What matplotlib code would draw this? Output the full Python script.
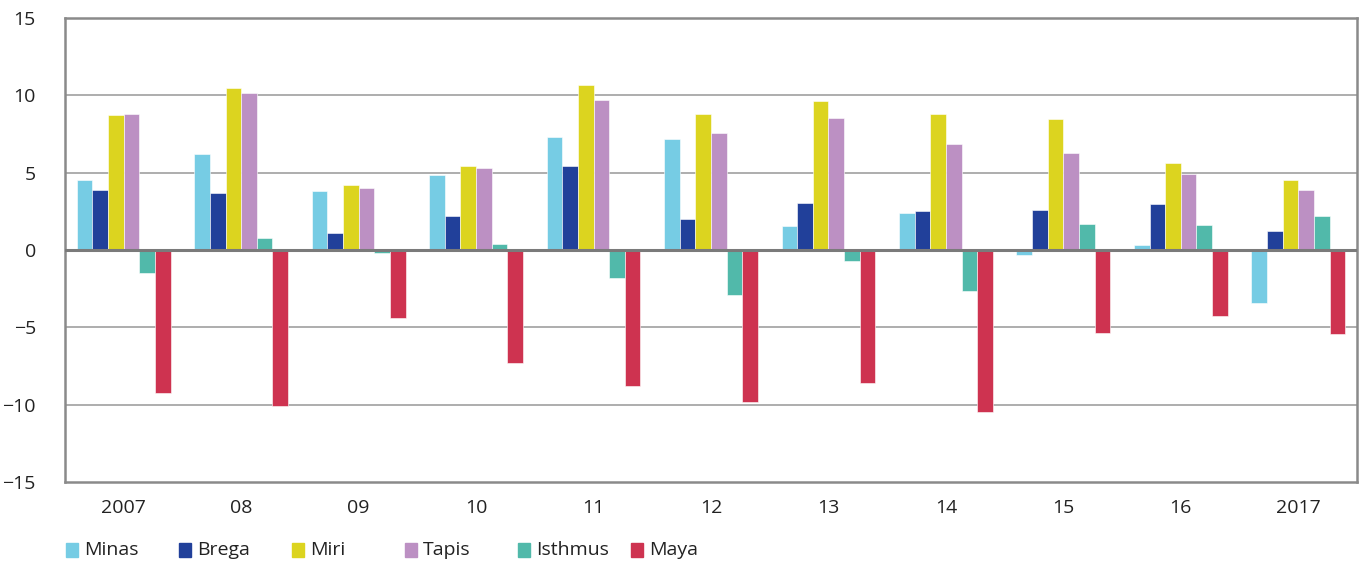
import numpy as np
import matplotlib
matplotlib.use("Agg")
import matplotlib.pyplot as plt
from matplotlib.patches import Rectangle

years = ["2007", "08", "09", "10", "11", "12", "13", "14", "15", "16", "2017"]
minas = [4.52, 6.2, 3.81, 4.85, 7.3, 7.18, 1.55, 2.39, -0.3, 0.32, -3.4]
brega = [3.86, 3.66, 1.1, 2.2, 5.43, 2.0, 3.02, 2.52, 2.59, 2.97, 1.21]
miri = [8.7, 10.47, 4.2, 5.43, 10.67, 8.81, 9.63, 8.81, 8.47, 5.62, 4.52]
tapis = [8.81, 10.13, 4.0, 5.28, 9.7, 7.54, 8.53, 6.87, 6.27, 4.93, 3.88]
isthmus = [-1.47, 0.8, -0.2, 0.41, -1.79, -2.91, -0.69, -2.63, 1.66, 1.62, 2.2]
maya = [-9.27, -10.06, -4.4, -7.3, -8.81, -9.83, -8.58, -10.49, -5.39, -4.25, -5.43]

names = ["Minas", "Brega", "Miri", "Tapis", "Isthmus", "Maya"]
series = [minas, brega, miri, tapis, isthmus, maya]
colors = ["#76CCE4", "#21409A", "#DCD41F", "#BC90C3", "#51B9AA", "#CE3350"]

plt.rcParams["font.family"] = ["Open Sans", "DejaVu Sans"]

fig = plt.figure(figsize=(13.61, 5.65), dpi=100)
ax = fig.add_axes([65 / 1361, 1 - 482 / 565, 1292 / 1361, 464 / 565])

x = np.arange(len(years))
w = 0.133
for i, (vals, c) in enumerate(zip(series, colors)):
    ax.bar(x + (i - 2.5) * w, vals, w, color=c, edgecolor="white", linewidth=0.4, zorder=3)

ax.set_xlim(-0.5, len(years) - 0.5)
ax.set_ylim(-15, 15)
ax.set_yticks(np.arange(-15, 16, 5))
ax.set_xticks(x)
ax.set_xticklabels(years)
ax.tick_params(axis="both", length=0, labelsize=14, colors="#222222")
ax.tick_params(axis="y", pad=21)
ax.tick_params(axis="x", pad=12)
for v in range(-10, 15, 5):
    ax.axhline(v, color="#A0A0A0", lw=1.2, zorder=1)
ax.axhline(0, color="#7A7A7A", lw=2.2, zorder=4)
for s in ax.spines.values():
    s.set_color("#8A8A8A")
    s.set_linewidth(1.8)

# legend along the bottom
for i, (n, c) in enumerate(zip(names, colors)):
    x0 = 66 + i * 113
    fig.add_artist(Rectangle((x0 / 1361, 1 - 557 / 565), 12 / 1361, 14 / 565,
                             transform=fig.transFigure, color=c))
    fig.text((x0 + 18) / 1361, 1 - 550 / 565, n, fontsize=14, va="center", color="#222222")

fig.savefig("out.png", dpi=100)
